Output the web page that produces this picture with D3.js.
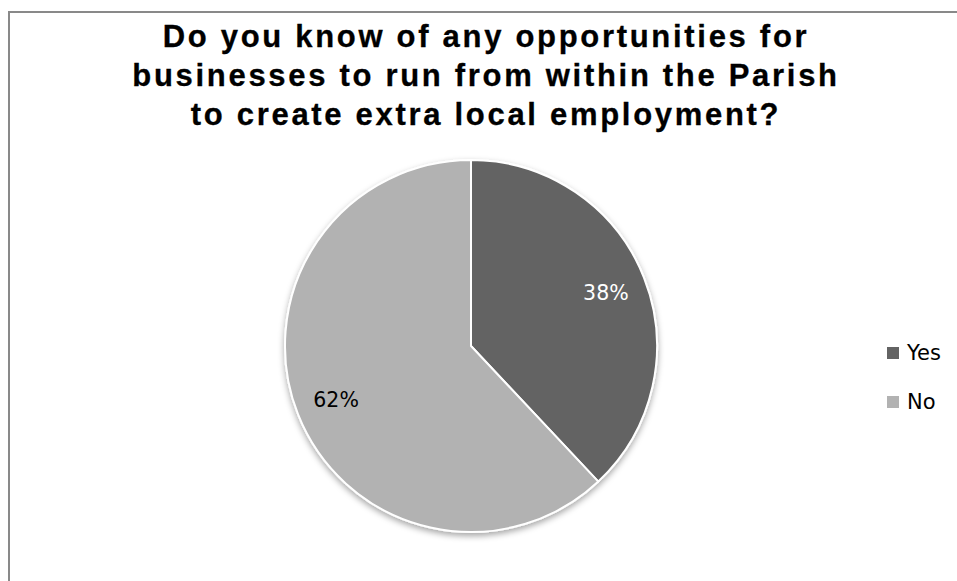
<!DOCTYPE html>
<html>
<head>
<meta charset="utf-8">
<script src="https://cdn.jsdelivr.net/npm/d3@7"></script>
<style>
  html, body { margin: 0; padding: 0; background: #ffffff; }
  svg { display: block; }
</style>
</head>
<body>
<svg id="chart" width="957" height="581"></svg>
<script>
// Survey answers
const categories = ["Yes", "No"];
const shares = [38, 62];
const sliceColors = ["#636363", "#b2b2b2"];
const labelColors = ["#ffffff", "#000000"];
const titleLines = [
  "Do you know of any opportunities for",
  "businesses to run from within the Parish",
  "to create extra local employment?"
];

const svg = d3.select("#chart");
const W = 957, H = 581;

// chart frame (open at right and bottom edges)
svg.append("rect")
  .attr("x", 9).attr("y", 12)
  .attr("width", W + 20).attr("height", H + 20)
  .attr("fill", "#ffffff")
  .attr("stroke", "#898989")
  .attr("stroke-width", 2);

// title
const title = svg.append("text")
  .attr("text-anchor", "middle")
  .attr("font-family", "'Liberation Sans', Arial, sans-serif")
  .attr("font-weight", "bold")
  .attr("font-size", 31)
  .attr("letter-spacing", 2.7)
  .attr("fill", "#000000")
  .attr("stroke", "#000000")
  .attr("stroke-width", 0.3);
titleLines.forEach((line, i) => {
  title.append("tspan")
    .attr("x", 486)
    .attr("y", 47 + i * 39)
    .text(line);
});

// drop shadow under the pie
const defs = svg.append("defs");
const f = defs.append("filter").attr("id", "pieShadow")
  .attr("x", "-20%").attr("y", "-20%").attr("width", "140%").attr("height", "140%");
f.append("feDropShadow")
  .attr("dx", 0).attr("dy", 3)
  .attr("stdDeviation", 3)
  .attr("flood-color", "#000000")
  .attr("flood-opacity", 0.35);

const cx = 471, cy = 346, r = 186;
const data = categories.map((c, i) => ({ category: c, value: shares[i], i }));

const pie = d3.pie().value(d => d.value).sort(null);
const arc = d3.arc().innerRadius(0).outerRadius(r);
const labelArc = d3.arc().innerRadius(r * 0.78).outerRadius(r * 0.78);
const color = d3.scaleOrdinal().domain(categories).range(sliceColors);

const g = svg.append("g").attr("transform", `translate(${cx},${cy})`);
const arcs = pie(data);

g.append("g").attr("filter", "url(#pieShadow)")
  .selectAll("path")
  .data(arcs)
  .join("path")
  .attr("d", arc)
  .attr("fill", d => color(d.data.category))
  .attr("stroke", "#ffffff")
  .attr("stroke-width", 2)
  .attr("stroke-linejoin", "round");

g.selectAll("text.pct")
  .data(arcs)
  .join("text")
  .attr("class", "pct")
  .attr("transform", d => {
    const [x, y] = labelArc.centroid(d);
    return `translate(${x},${y})`;
  })
  .attr("text-anchor", "middle")
  .attr("dy", "0.36em")
  .attr("font-family", "'DejaVu Sans', sans-serif")
  .attr("font-size", 20.5)
  .attr("fill", d => labelColors[d.data.i])
  .text(d => d.data.value + "%");

// legend
const legend = svg.append("g").attr("transform", "translate(887,347)");
const item = legend.selectAll("g")
  .data(categories)
  .join("g")
  .attr("transform", (d, i) => `translate(0,${i * 49})`);
item.append("rect")
  .attr("width", 12).attr("height", 12)
  .attr("fill", d => color(d));
item.append("text")
  .attr("x", 20).attr("y", 13)
  .attr("font-family", "'DejaVu Sans', sans-serif")
  .attr("font-size", 21)
  .attr("fill", "#000000")
  .text(d => d);
</script>
</body>
</html>
